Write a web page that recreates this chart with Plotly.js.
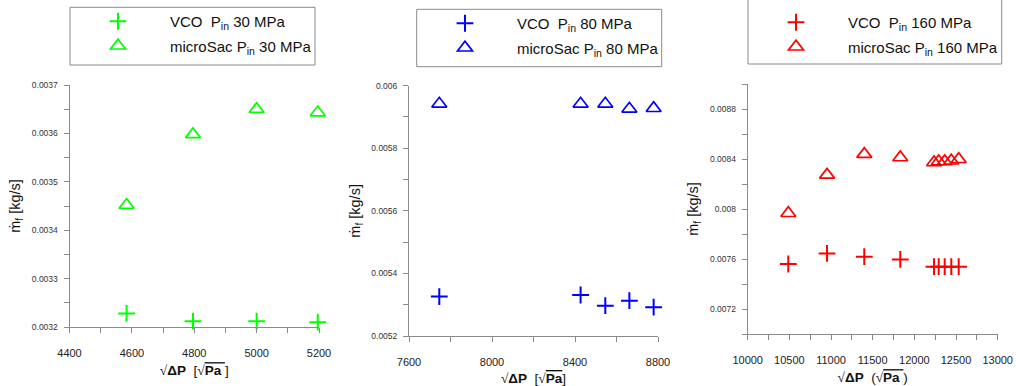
<!DOCTYPE html>
<html><head><meta charset="utf-8">
<script src="https://cdn.plot.ly/plotly-3.0.1.min.js"></script>
<style>html,body{margin:0;padding:0;background:#fff}#chart{width:1016px;height:386px}</style>
</head><body><div id="chart"></div>
<script>
// ---- data ----
const dp30 = [4583, 4796, 5000, 5196];
const vco30 = [0.003228, 0.003212, 0.003212, 0.003210];
const sac30 = [0.003452, 0.003598, 0.003650, 0.003643];

const dp80 = [7746, 8427, 8546, 8662, 8779];
const vco80 = [0.005326, 0.005331, 0.005297, 0.005313, 0.005292];
const sac80 = [0.005942, 0.005942, 0.005942, 0.005926, 0.005928];

const dp160 = [10487, 10952, 11399, 11831, 12236, 12292, 12364, 12443, 12532];
const vco160 = [0.00756, 0.007645, 0.007619, 0.007597, 0.007539, 0.007539, 0.007539, 0.007539, 0.007539];
const sac160 = [0.007966, 0.008273, 0.008439, 0.008412, 0.008372, 0.00838, 0.00838, 0.008386, 0.008398];

const xTicks1 = [4400, 4600, 4800, 5000, 5200];
const yTicks1 = [0.0032, 0.0033, 0.0034, 0.0035, 0.0036, 0.0037];
const yTickText1 = ['0.0032', '0.0033', '0.0034', '0.0035', '0.0036', '0.0037'];
const xTicks2 = [7600, 8000, 8400, 8800];
const yTicks2 = [0.0052, 0.0054, 0.0056, 0.0058, 0.006];
const yTickText2 = ['0.0052', '0.0054', '0.0056', '0.0058', '0.006'];
const xTicks3 = [10000, 10500, 11000, 11500, 12000, 12500, 13000];
const yTicks3 = [0.0072, 0.0076, 0.008, 0.0084, 0.0088];
const yTickText3 = ['0.0072', '0.0076', '0.008', '0.0084', '0.0088'];

const names = [
  ['VCO&nbsp; P<sub>in</sub> 30 MPa', 'microSac P<sub>in</sub> 30 MPa'],
  ['VCO&nbsp; P<sub>in</sub> 80 MPa', 'microSac P<sub>in</sub> 80 MPa'],
  ['VCO&nbsp; P<sub>in</sub> 160 MPa', 'microSac P<sub>in</sub> 160 MPa']
];
const colors = ['#00ff00', '#0000ff', '#ff0000'];

// ---- layout helpers ----
const W = 1016, H = 386;
const px = v => v / W;
const py = v => 1 - v / H;
const FONT = 'Liberation Sans, Arial, sans-serif';
const AX = '#8a8a8a';

function cross(x, y, i, leg) {
  return {x, y, type: 'scatter', mode: 'markers', name: names[i][0], xaxis: i ? 'x' + (i + 1) : 'x', yaxis: i ? 'y' + (i + 1) : 'y',
    legend: leg, legendgroup: 'a' + i, cliponaxis: false,
    marker: {symbol: 'cross-thin-open', size: 12, color: colors[i], line: {color: colors[i], width: 2}}};
}
function tri(x, y, i, leg) {
  return {x, y, type: 'scatter', mode: 'markers', name: names[i][1], xaxis: i ? 'x' + (i + 1) : 'x', yaxis: i ? 'y' + (i + 1) : 'y',
    legend: leg, legendgroup: 'b' + i, cliponaxis: false,
    marker: {symbol: 'triangle-up-open', size: 13, color: colors[i], line: {color: colors[i], width: 1.7}}};
}

const data = [
  cross(dp30, vco30, 0, 'legend'), tri(dp30, sac30, 0, 'legend'),
  cross(dp80, vco80, 1, 'legend2'), tri(dp80, sac80, 1, 'legend2'),
  cross(dp160, vco160, 2, 'legend3'), tri(dp160, sac160, 2, 'legend3')
];

function xax(dom, range, tv, minor, anchor, title) {
  return {domain: dom, range, anchor, tickmode: 'array', tickvals: tv, ticktext: tv.map(String),
    showline: true, linecolor: AX, linewidth: 1, ticks: 'outside', ticklen: 5, tickcolor: AX,
    minor: {dtick: minor, tick0: range[0], ticks: 'outside', ticklen: 5, tickcolor: AX},
    showgrid: false, zeroline: false, ticklabelstandoff: 11,
    tickfont: {family: FONT, size: 11, color: '#222'},
    title: {text: title, font: {family: FONT, size: 13.5, color: '#111'}, standoff: 7}};
}
function yax(dom, range, tv, tt, minor, anchor) {
  return {domain: dom, range, anchor, tickmode: 'array', tickvals: tv, ticktext: tt,
    showline: true, linecolor: AX, linewidth: 1, ticks: 'outside', ticklen: 5, tickcolor: AX,
    minor: {dtick: minor, tick0: range[0], ticks: 'outside', ticklen: 5, tickcolor: AX},
    showgrid: false, zeroline: false, ticklabelstandoff: 4,
    tickfont: {family: FONT, size: 8.5, color: '#333'},
    title: {text: 'ṁ<sub>f</sub> [kg/s]', font: {family: FONT, size: 14.5, color: '#111'}, standoff: 7}};
}

const SQ = '<span style="font-family:Liberation Serif">√</span>';
const OV = s => '<span style="text-decoration:overline">' + s + '</span>';
const t1 = SQ + '<b>ΔP</b>&nbsp;&nbsp;[' + SQ + OV('<b>Pa</b>&nbsp;') + ']';
const t2 = SQ + '<b>ΔP</b>&nbsp;&nbsp;[' + SQ + OV('<b>Pa</b>') + ']';
const t3 = SQ + '<b>ΔP</b>&nbsp;&nbsp;(' + SQ + OV('<b>Pa</b>&nbsp;') + ')';

function leg(xl, ytop) {
  return {x: px(xl), y: py(ytop), xanchor: 'left', yanchor: 'top', xref: 'paper', yref: 'paper',
    bgcolor: 'rgba(0,0,0,0)', borderwidth: 0, itemwidth: 94, tracegroupgap: 2, traceorder: 'grouped',
    font: {family: FONT, size: 15, color: '#111'}};
}
function box(x0, x1, y0, y1) {
  return {type: 'rect', xref: 'paper', yref: 'paper', x0: px(x0), x1: px(x1), y0: py(y1), y1: py(y0),
    line: {color: '#8a8a8a', width: 1}, fillcolor: 'rgba(0,0,0,0)', layer: 'below'};
}

const layout = {
  width: W, height: H, margin: {l: 0, r: 0, t: 0, b: 0}, paper_bgcolor: '#fff', plot_bgcolor: '#fff',
  font: {family: FONT},
  xaxis: xax([px(69.5), px(319)], [4400, 5200], xTicks1, 100, 'y', t1),
  yaxis: yax([py(327), py(85)], [0.0032, 0.0037], yTicks1, yTickText1, 0.00005, 'x'),
  xaxis2: xax([px(409), px(658)], [7600, 8800], xTicks2, 200, 'y2', t2),
  yaxis2: yax([py(336), py(85.7)], [0.0052, 0.006], yTicks2, yTickText2, 0.0001, 'x2'),
  xaxis3: xax([px(747.7), px(997.7)], [10000, 13000], xTicks3, 250, 'y3', t3),
  yaxis3: yax([py(334), py(84)], [0.007, 0.009], yTicks3, yTickText3, 0.0002, 'x3'),
  legend: leg(66, 5),
  legend2: leg(413, 7),
  legend3: leg(744, 6),
  shapes: [box(70, 315, 7.3, 65), box(416.7, 661.7, 9.3, 66.7), box(748, 1001.7, -2, 64)],
  showlegend: true
};

Plotly.newPlot('chart', data, layout, {staticPlot: true});
</script></body></html>
